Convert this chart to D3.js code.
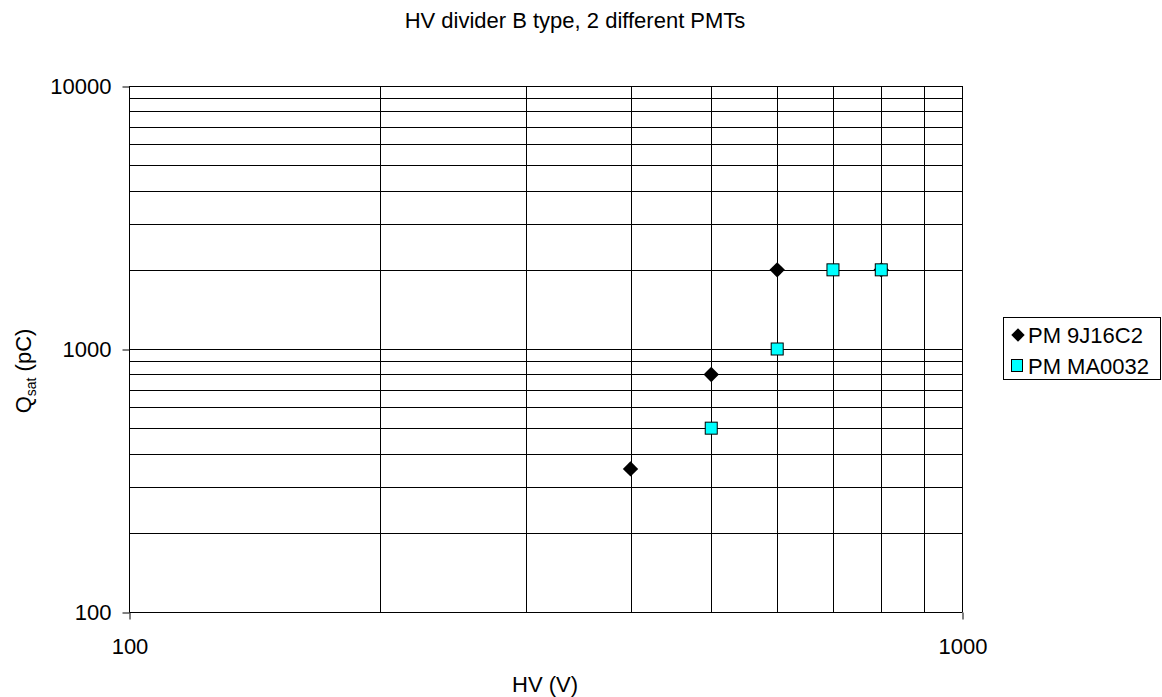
<!DOCTYPE html>
<html>
<head>
<meta charset="utf-8">
<script src="https://cdn.jsdelivr.net/npm/d3@7"></script>
<style>
html,body{margin:0;padding:0;background:#fff;}
svg{display:block;font-family:"Liberation Sans",Arial,sans-serif;}
</style>
</head>
<body>
<svg id="chart" width="1162" height="697"></svg>
<script>
const chartTitle = "HV divider B type, 2 different PMTs";
const xTitle = "HV (V)";
const seriesNames = ["PM 9J16C2", "PM MA0032"];
const hv9J16C2 = [400, 500, 600, 800];
const q9J16C2 = [350, 800, 2000, 2000];
const hvMA0032 = [500, 600, 700, 800];
const qMA0032 = [500, 1000, 2000, 2000];
const xTickLabels = [100, 1000];
const yTickLabels = [100, 1000, 10000];

const svg = d3.select("#chart");
const m = {left:129, top:86, right:962, bottom:612};
const x = d3.scaleLog().domain([100,1000]).range([m.left, m.right]);
const y = d3.scaleLog().domain([100,10000]).range([m.bottom, m.top]);
const fs = 22;

// gridlines
const xGrid = [];
for (let v = 200; v <= 1000; v += 100) xGrid.push(v);
const yGrid = [];
for (let d = 100; d < 10000; d *= 10) for (let k = 2; k <= 10; k++) yGrid.push(d*k);

svg.append("g").selectAll("line").data(yGrid).join("line")
  .attr("x1", m.left).attr("x2", m.right)
  .attr("y1", d => Math.round(y(d))+0.5).attr("y2", d => Math.round(y(d))+0.5)
  .attr("stroke", "#000").attr("stroke-width", 1);
svg.append("g").selectAll("line").data(xGrid).join("line")
  .attr("y1", m.top).attr("y2", m.bottom)
  .attr("x1", d => Math.round(x(d))+0.5).attr("x2", d => Math.round(x(d))+0.5)
  .attr("stroke", "#000").attr("stroke-width", 1);

// axes
const xAxis = d3.axisBottom(x).tickValues(xTickLabels).tickFormat(d3.format("d")).tickSize(7).tickPadding(19);
const yAxis = d3.axisLeft(y).tickValues(yTickLabels).tickFormat(d3.format("d")).tickSize(7).tickPadding(11);
const gx = svg.append("g").attr("transform", `translate(0.5,${m.bottom+0.5})`).call(xAxis);
const gy = svg.append("g").attr("transform", `translate(${m.left+0.5},0.5)`).call(yAxis);
[gx, gy].forEach(g => {
  g.select(".domain").attr("stroke", "#000");
  g.selectAll(".tick line").attr("stroke", "#000");
  g.selectAll(".tick text").attr("fill", "#000").style("font-size", fs+"px").style("font-family", "Liberation Sans, Arial, sans-serif");
});
gx.select(".domain").attr("d", `M${m.left},0H${m.right}`);
gy.select(".domain").attr("d", `M0,${m.top}V${m.bottom}`);

// series 1: diamonds
svg.append("g").selectAll("path").data(hv9J16C2.map((v,i)=>[v,q9J16C2[i]])).join("path")
  .attr("transform", d => `translate(${x(d[0])},${y(d[1])}) rotate(45)`)
  .attr("d", d3.symbol().type(d3.symbolSquare).size(118))
  .attr("fill", "#000");
// series 2: squares
svg.append("g").selectAll("rect").data(hvMA0032.map((v,i)=>[v,qMA0032[i]])).join("rect")
  .attr("x", d => x(d[0]) - 6).attr("y", d => y(d[1]) - 6)
  .attr("width", 12).attr("height", 12)
  .attr("fill", "#00FFFF").attr("stroke", "#000").attr("stroke-width", 1);

// title
svg.append("text").attr("x", 575).attr("y", 28).attr("text-anchor", "middle")
  .style("font-size", fs+"px").text(chartTitle);
svg.append("text").attr("x", 545).attr("y", 692).attr("text-anchor", "middle")
  .style("font-size", fs+"px").text(xTitle);
const yt = svg.append("text").attr("transform", "translate(31,371) rotate(-90)").attr("text-anchor", "middle")
  .style("font-size", fs+"px");
yt.append("tspan").text("Q");
yt.append("tspan").text("sat").style("font-size", "14px").attr("dy", 5);
yt.append("tspan").text(" (pC)").attr("dy", -5);

// legend
const lg = svg.append("g");
lg.append("rect").attr("x", 1003.5).attr("y", 317.5).attr("width", 157).attr("height", 62)
  .attr("fill", "#fff").attr("stroke", "#000");
lg.append("path").attr("transform", "translate(1018,335) rotate(45)")
  .attr("d", d3.symbol().type(d3.symbolSquare).size(90)).attr("fill", "#000");
lg.append("rect").attr("x", 1011.5).attr("y", 359.5).attr("width", 11).attr("height", 12)
  .attr("fill", "#00FFFF").attr("stroke", "#000");
lg.append("text").attr("x", 1028).attr("y", 343).style("font-size", fs+"px").text(seriesNames[0]);
lg.append("text").attr("x", 1028).attr("y", 374).style("font-size", fs+"px").text(seriesNames[1]);
</script>
</body>
</html>
